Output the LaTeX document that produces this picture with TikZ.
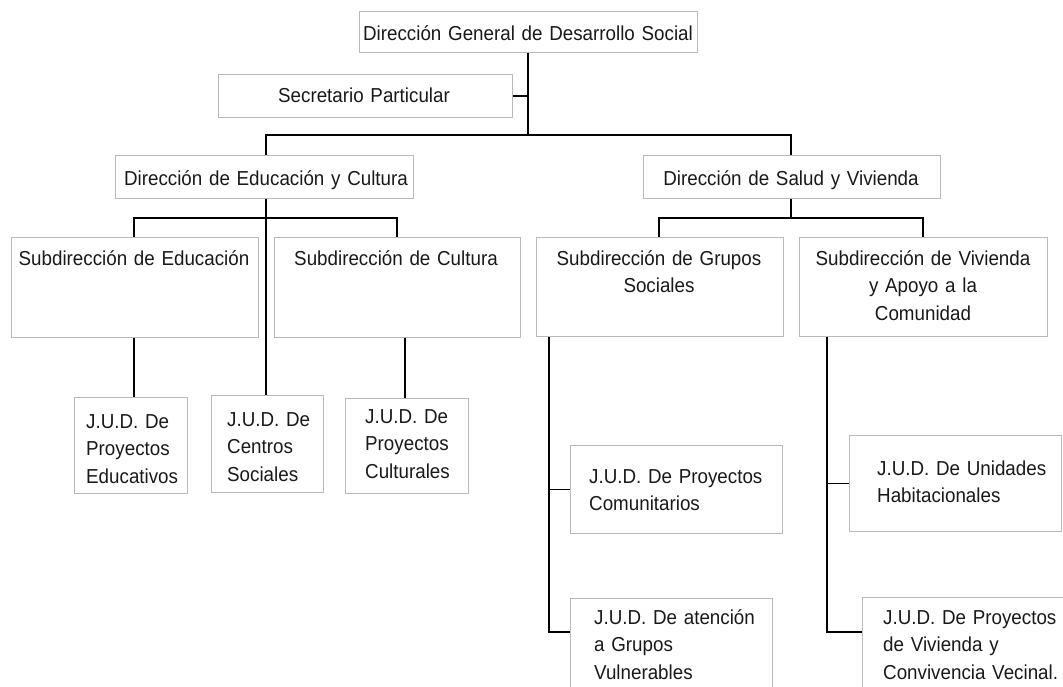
\documentclass[tikz,border=0pt]{standalone}
\usepackage{fontspec}
\setmainfont[FakeStretch=0.93]{Liberation Sans}
\begin{document}
\begin{tikzpicture}[x=1pt,y=-1pt,
  box/.style={draw=gray!55, line width=0.8pt, inner sep=0pt, anchor=north west},
  txt/.style={inner sep=0pt, font=\fontsize{20.2}{27.8}\selectfont, text=black!90},
  ctxt/.style={txt, anchor=base, text width=260pt, align=center},
  ltxt/.style={txt, anchor=base west, text width=200pt, align=left},
  conn/.style={draw=black, line width=1.8pt}]
\clip (0,0) rectangle (1063,686);
\fill[white] (0,0) rectangle (1063,686);
% boxes
\node[box, minimum width=338pt, minimum height=41pt] (top) at (359,11) {};
\node[box, minimum width=294pt, minimum height=43pt] (sec) at (218,74) {};
\node[box, minimum width=298pt, minimum height=43pt] (dEdu) at (115,155) {};
\node[box, minimum width=297pt, minimum height=43pt] (dSal) at (643,155) {};
\node[box, minimum width=247pt, minimum height=100pt] (sEdu) at (11,237) {};
\node[box, minimum width=246pt, minimum height=100pt] (sCul) at (274,237) {};
\node[box, minimum width=247pt, minimum height=99pt] (sGru) at (536,237) {};
\node[box, minimum width=248pt, minimum height=99pt] (sViv) at (799,237) {};
\node[box, minimum width=113pt, minimum height=96pt] (jEdu) at (74,397) {};
\node[box, minimum width=112pt, minimum height=97pt] (jCen) at (211,395) {};
\node[box, minimum width=123pt, minimum height=95pt] (jCul) at (345,398) {};
\node[box, minimum width=212pt, minimum height=88pt] (jCom) at (570,445) {};
\node[box, minimum width=202pt, minimum height=110pt] (jAte) at (570,598) {};
\node[box, minimum width=212pt, minimum height=96pt] (jUni) at (849,435) {};
\node[box, minimum width=213pt, minimum height=110pt] (jViv) at (862,597) {};
% texts
\node[ctxt, text width=340pt] (tTop) at (528,40) {Dirección General de Desarrollo Social};
\node[ctxt] (tSec) at (364,102) {Secretario Particular};
\node[ctxt, text width=300pt] (tEdu) at (266,185) {Dirección de Educación y Cultura};
\node[ctxt, text width=300pt] (tSal) at (791,185) {Dirección de Salud y Vivienda};
\node[ctxt] (tsEdu) at (134,265) {Subdirección de Educación};
\node[ctxt] (tsCul) at (396,265) {Subdirección de Cultura};
\node[ctxt] (tsGru) at (659,265) {Subdirección de Grupos\\Sociales};
\node[ctxt] (tsViv) at (923,265) {Subdirección de Vivienda\\y Apoyo a la\\Comunidad};
\node[ltxt] (tjEdu) at (86,428) {J.U.D. De\\Proyectos\\Educativos};
\node[ltxt] (tjCen) at (227,426) {J.U.D. De\\Centros\\Sociales};
\node[ltxt] (tjCul) at (365,423) {J.U.D. De\\Proyectos\\Culturales};
\node[ltxt] (tjCom) at (589,483) {J.U.D. De Proyectos\\Comunitarios};
\node[ltxt] (tjAte) at (594,624) {J.U.D. De atención\\a Grupos\\Vulnerables};
\node[ltxt] (tjUni) at (877,475) {J.U.D. De Unidades\\Habitacionales};
\node[ltxt] (tjViv) at (883,624) {J.U.D. De Proyectos\\de Vivienda y\\Convivencia Vecinal.};
% junction coordinates
\coordinate (c1) at (528,135);
\coordinate (hL) at (266,135);
\coordinate (hR) at (791,135);
\coordinate (e1) at (134,218);
\coordinate (e2) at (397,218);
\coordinate (xc) at (405,367);
\coordinate (r1) at (659,218);
\coordinate (r2) at (923,218);
\coordinate (g) at (549,632);
\coordinate (v) at (827,632);
% connectors
\draw[conn] (top.south -| c1) -- (c1);
\draw[conn] (sec.east) -- (sec.east -| c1);
\draw[conn] (dEdu.north -| hL) -- (hL) -- (hR) -- (dSal.north -| hR);
\draw[conn] (dEdu.south -| hL) -- (jCen.north -| hL);
\draw[conn] (sEdu.north -| e1) -- (e1) -- (e2) -- (sCul.north -| e2);
\draw[conn] (sEdu.south -| e1) -- (jEdu.north -| e1);
\draw[conn] (sCul.south -| xc) -- (jCul.north -| xc);
\draw[conn] (dSal.south -| hR) -- (hR |- r1);
\draw[conn] (sGru.north -| r1) -- (r1) -- (r2) -- (sViv.north -| r2);
\draw[conn] (sGru.south -| g) -- (g) -- (g -| jAte.west);
\draw[conn] (jCom.west -| g) -- (jCom.west);
\draw[conn] (sViv.south -| v) -- (v) -- (v -| jViv.west);
\draw[conn] (jUni.west -| v) -- (jUni.west);
\end{tikzpicture}
\end{document}
